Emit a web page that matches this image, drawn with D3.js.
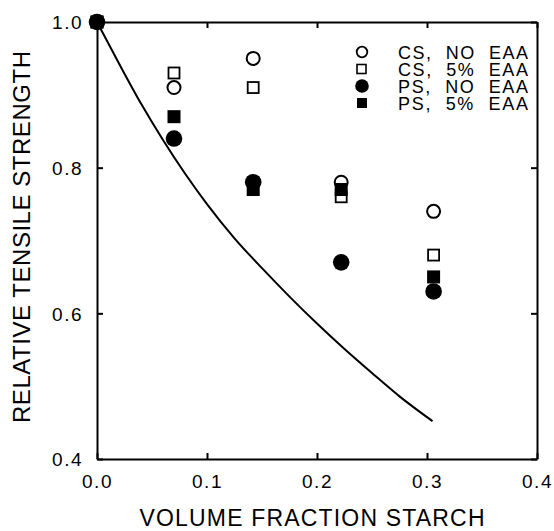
<!DOCTYPE html>
<html>
<head>
<meta charset="utf-8">
<script src="https://cdn.jsdelivr.net/npm/d3@7"></script>
<style>
body { margin: 0; background: #fff; }
text { font-family: "Liberation Sans", Arial, sans-serif; fill: #000; }
</style>
</head>
<body>
<div id="chart"></div>
<script>
// data
var volFrac = [0.0, 0.07, 0.142, 0.222, 0.306];
var csNoEaa = [1.0, 0.91, 0.95, 0.78, 0.74];
var cs5Eaa  = [1.0, 0.93, 0.91, 0.76, 0.68];
var psNoEaa = [1.0, 0.84, 0.78, 0.67, 0.63];
var ps5Eaa  = [1.0, 0.87, 0.77, 0.77, 0.65];

// theory curve, points
var curveX = [0, 0.02, 0.04, 0.06, 0.08, 0.10, 0.125, 0.15, 0.175, 0.2, 0.225, 0.25, 0.275, 0.305];
var curveY = [1.0, 0.943, 0.888, 0.838, 0.792, 0.750, 0.703, 0.662, 0.623, 0.586, 0.551, 0.518, 0.486, 0.452];

var xTicks = [0.0, 0.1, 0.2, 0.3, 0.4];
var yTicks = [0.4, 0.6, 0.8, 1.0];

var legendLabels = ["CS,  NO  EAA", "CS,  5%  EAA", "PS,  NO  EAA", "PS,  5%  EAA"];

var W = 554, H = 531;
var pLeft = 97, pRight = 537, pTop = 22, pBottom = 459;

var svg = d3.select("#chart").append("svg")
	.attr("width", W)
	.attr("height", H);

var x = d3.scaleLinear().domain([0, 0.4]).range([pLeft, pRight]);
var y = d3.scaleLinear().domain([0.4, 1.0]).range([pBottom, pTop]);

// axes, ticks pointing in
var bAxis = d3.axisBottom(x).tickValues(xTicks).tickFormat(d3.format(".1f")).tickSize(-6).tickSizeOuter(0).tickPadding(15);
var lAxis = d3.axisLeft(y).tickValues(yTicks).tickFormat(d3.format(".1f")).tickSize(-6).tickSizeOuter(0).tickPadding(14);
var tAxis = d3.axisTop(x).tickValues(xTicks).tickFormat("").tickSize(-6).tickSizeOuter(0);
var rAxis = d3.axisRight(y).tickValues(yTicks).tickFormat("").tickSize(-6).tickSizeOuter(0);

var gb = svg.append("g").attr("transform", "translate(0," + pBottom + ")").call(bAxis);
var gl = svg.append("g").attr("transform", "translate(" + pLeft + ",0)").call(lAxis);
var gt = svg.append("g").attr("transform", "translate(0," + pTop + ")").call(tAxis);
var gr = svg.append("g").attr("transform", "translate(" + pRight + ",0)").call(rAxis);

[gb, gl, gt, gr].forEach(function(g){
	g.select(".domain").attr("stroke", "#000").attr("stroke-width", 2);
	g.selectAll(".tick line").attr("stroke", "#000").attr("stroke-width", 2);
	g.selectAll(".tick text")
		.style("font-family", "'Liberation Sans', Arial, sans-serif")
		.style("font-size", "19px")
		.style("letter-spacing", "1.5px")
		.attr("fill", "#000");
});
gb.selectAll(".tick text").attr("dy", "0.75em");
gl.selectAll(".tick text").attr("dy", "0.36em");

// axis titles
svg.append("text")
	.attr("x", (pLeft + pRight) / 2 - 5)
	.attr("y", 526)
	.attr("text-anchor", "middle")
	.attr("textLength", 345)
	.style("font-size", "23px")
	.text("VOLUME FRACTION STARCH");

svg.append("text")
	.attr("transform", "translate(30," + 237 + ") rotate(-90)")
	.attr("text-anchor", "middle")
	.attr("textLength", 372)
	.style("font-size", "24px")
	.text("RELATIVE TENSILE STRENGTH");

// theory line
var line = d3.line()
	.x(function(d){ return x(d[0]); })
	.y(function(d){ return y(d[1]); })
	.curve(d3.curveMonotoneX);

svg.append("path")
	.datum(d3.zip(curveX, curveY))
	.attr("d", line)
	.attr("fill", "none")
	.attr("stroke", "#000")
	.attr("stroke-width", 2);

// marker drawing
function drawMarker(g, kind, cx, cy){
	if(kind == "openCircle"){
		g.append("circle").attr("cx", cx).attr("cy", cy).attr("r", 6.5)
			.attr("fill", "#fff").attr("stroke", "#000").attr("stroke-width", 2);
	}
	if(kind == "openSquare"){
		g.append("rect").attr("x", cx - 5.5).attr("y", cy - 5.5).attr("width", 11).attr("height", 11)
			.attr("fill", "#fff").attr("stroke", "#000").attr("stroke-width", 1.8);
	}
	if(kind == "filledCircle"){
		g.append("circle").attr("cx", cx).attr("cy", cy).attr("r", 8.3).attr("fill", "#000");
	}
	if(kind == "filledSquare"){
		g.append("rect").attr("x", cx - 6.5).attr("y", cy - 6.5).attr("width", 13).attr("height", 13)
			.attr("fill", "#000");
	}
}

var series = [
	{kind: "openCircle", vals: csNoEaa},
	{kind: "openSquare", vals: cs5Eaa},
	{kind: "filledSquare", vals: ps5Eaa},
	{kind: "filledCircle", vals: psNoEaa}
];

var pts = svg.append("g").attr("class", "points");
series.forEach(function(s){
	s.vals.forEach(function(v, i){
		drawMarker(pts, s.kind, x(volFrac[i]), y(v));
	});
});

// legend
var legendKinds = ["openCircle", "openSquare", "filledCircle", "filledSquare"];
var leg = svg.append("g").attr("class", "legend");
legendKinds.forEach(function(k, i){
	var ly = 52 + i * 17;
	if(k == "openSquare"){
		leg.append("rect").attr("x", 357).attr("y", ly - 4.5).attr("width", 9).attr("height", 9)
			.attr("fill", "#fff").attr("stroke", "#000").attr("stroke-width", 1.6);
	} else if(k == "filledSquare"){
		leg.append("rect").attr("x", 357).attr("y", ly - 5).attr("width", 10).attr("height", 10).attr("fill", "#000");
	} else if(k == "openCircle"){
		leg.append("circle").attr("cx", 362).attr("cy", ly).attr("r", 5.3)
			.attr("fill", "#fff").attr("stroke", "#000").attr("stroke-width", 1.8);
	} else {
		leg.append("circle").attr("cx", 362).attr("cy", ly).attr("r", 6.8).attr("fill", "#000");
	}
	leg.append("text")
		.attr("x", 398)
		.attr("y", ly + 7)
		.attr("textLength", 130)
		.attr("xml:space", "preserve")
		.style("white-space", "pre")
		.style("font-size", "18px")
		.text(legendLabels[i]);
});
</script>
</body>
</html>
